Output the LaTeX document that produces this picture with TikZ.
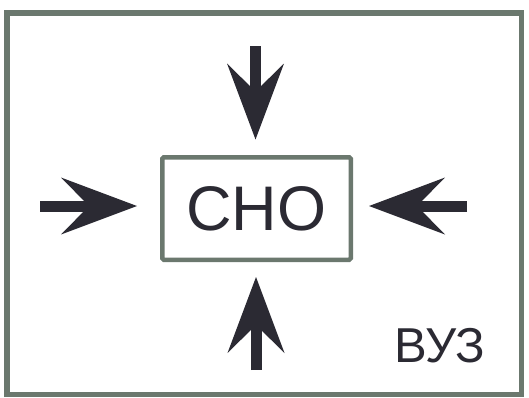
\documentclass[tikz,border=0pt]{standalone}
\usepackage{fontspec}
\setmainfont{Liberation Sans}
\usetikzlibrary{arrows.meta}
\definecolor{frameGrey}{RGB}{107,120,110}
\definecolor{inkDark}{RGB}{43,42,51}

\begin{document}
\begin{tikzpicture}[x=1pt,y=-1pt,
  push/.style={inkDark, line width=11pt,
    -{Stealth[length=76pt,width=57pt,inset=28pt,line width=0pt]}}]

%
\useasboundingbox (0,0) rectangle (529,397);
\draw[frameGrey, line width=5.5pt] (6.75,12.75) rectangle (521.25,394.5);

%
\node[draw=frameGrey, line width=4.5pt, rounded corners=1.5pt,
  minimum width=188.5pt, minimum height=102.5pt, inner sep=0pt,
  text=inkDark, font=\fontsize{63}{63}\selectfont] (sno) at (256.5,208.5) {СНО};

%
\node[text=inkDark, font=\fontsize{49}{49}\selectfont] (vuz) at (440,346) {ВУЗ};

%
\coordinate (topIn) at (255.5,46);
\coordinate (topOut) at (255.5,139.5);
\coordinate (botIn) at (256,370);
\coordinate (botOut) at (256,277);
\coordinate (leftIn) at (40,206);
\coordinate (leftOut) at (137,206);
\coordinate (rightIn) at (467,206);
\coordinate (rightOut) at (369,206);

%
\draw[push] (topIn) -- (topOut);
\draw[push] (botIn) -- (botOut);
\draw[push] (leftIn) -- (leftOut);
\draw[push] (rightIn) -- (rightOut);

\end{tikzpicture}
\end{document}
